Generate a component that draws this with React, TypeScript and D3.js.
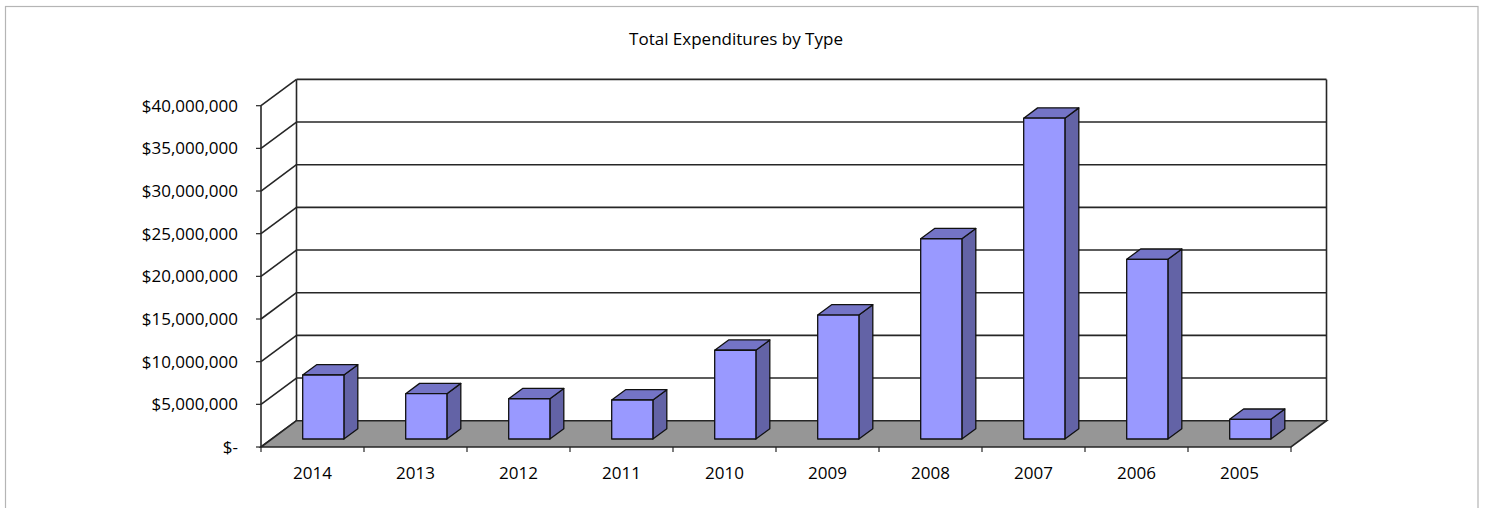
import React from "react";
import * as d3 from "d3";

const categories = ["2014", "2013", "2012", "2011", "2010", "2009", "2008", "2007", "2006", "2005"];
const values = [7500000, 5310000, 4720000, 4570000, 10400000, 14530000, 23470000, 37600000, 21060000, 2310000];
const yTicks = [0, 5000000, 10000000, 15000000, 20000000, 25000000, 30000000, 35000000, 40000000];
const title = "Total Expenditures by Type";

const W = 1488;
const H = 508;
const FONT = "'Open Sans', 'Noto Sans', sans-serif";

export default function App() {
  const x0 = 261, x1 = 1291;
  const DX = 35.5, DY = 26.3;
  const x = d3.scaleBand<string>().domain(categories).range([x0, x1]).paddingInner(0).paddingOuter(0);
  const y = d3.scaleLinear().domain([0, 40000000]).range([447, 105.7]);
  const barW = x.bandwidth() / 2.5;
  const zFront = 0.304, zBack = 0.696;
  const fmt = (v: number) => (v === 0 ? "$-" : "$" + d3.format(",")(v));
  const P = (px: number, py: number, z: number) => [px + z * DX, py - z * DY];
  const pts = (arr: number[][]) => arr.map((p) => p.join(",")).join(" ");
  const stroke = "#262626";

  return (
    <svg width={W} height={H} style={{ position: "absolute", left: 0, top: 0, display: "block", background: "#fff" }}>
      <rect x={5.5} y={6.5} width={1472.5} height={520} fill="#fff" stroke="#b5b5b5" strokeWidth={1.2} />
      <text x={736} y={45} textAnchor="middle" fontFamily={FONT} fontSize={17} fill="#000">{title}</text>

      {/* back wall gridlines */}
      {yTicks.map((t) => (
        <line key={"g" + t} x1={x0 + DX} x2={x1 + DX} y1={y(t) - DY} y2={y(t) - DY} stroke={stroke} strokeWidth={1.6} />
      ))}
      {/* left wall diagonals */}
      {yTicks.map((t) => (
        <line key={"d" + t} x1={x0} y1={y(t)} x2={x0 + DX} y2={y(t) - DY} stroke={stroke} strokeWidth={1.6} />
      ))}
      {/* back wall verticals */}
      <line x1={x0 + DX} x2={x0 + DX} y1={y(40000000) - DY} y2={y(0) - DY} stroke={stroke} strokeWidth={1.6} />
      <line x1={x1 + DX} x2={x1 + DX} y1={y(40000000) - DY} y2={y(0) - DY} stroke={stroke} strokeWidth={1.6} />

      {/* floor */}
      <polygon
        points={pts([[x0, y(0)], [x0 + DX, y(0) - DY], [x1 + DX, y(0) - DY], [x1, y(0)]])}
        fill="#969696"
        stroke={stroke}
        strokeWidth={1.6}
      />

      {/* front value axis */}
      <line x1={x0} x2={x0} y1={y(40000000)} y2={y(0)} stroke={stroke} strokeWidth={1.6} />
      {yTicks.map((t) => (
        <g key={"t" + t}>
          <line x1={x0 - 5} x2={x0} y1={y(t)} y2={y(t)} stroke={stroke} strokeWidth={1.2} />
          <text x={238} y={y(t) + 6} textAnchor="end" fontFamily={FONT} fontSize={17} fill="#000">{fmt(t)}</text>
        </g>
      ))}

      {/* category ticks and labels */}
      {[...categories.map((c) => x(c) as number), x1].map((px, i) => (
        <line key={"ct" + i} x1={px} x2={px} y1={y(0)} y2={y(0) + 5} stroke={stroke} strokeWidth={1.2} />
      ))}
      {categories.map((c) => (
        <text key={"cl" + c} x={(x(c) as number) + x.bandwidth() / 2} y={478.5} textAnchor="middle" fontFamily={FONT} fontSize={17} fill="#000">{c}</text>
      ))}

      {/* bars */}
      {categories.map((c, i) => {
        const bx0 = (x(c) as number) + (x.bandwidth() - barW) / 2;
        const bx1 = bx0 + barW;
        const yb = y(0), yt = y(values[i]);
        const f00 = P(bx0, yb, zFront), f10 = P(bx1, yb, zFront), f11 = P(bx1, yt, zFront), f01 = P(bx0, yt, zFront);
        const b10 = P(bx1, yb, zBack), b11 = P(bx1, yt, zBack), b01 = P(bx0, yt, zBack);
        return (
          <g key={"b" + c} stroke="#111" strokeWidth={1.3} strokeLinejoin="round">
            <polygon points={pts([f10, b10, b11, f11])} fill="#6363a6" />
            <polygon points={pts([f01, f11, b11, b01])} fill="#7474c6" />
            <polygon points={pts([f00, f10, f11, f01])} fill="#9999ff" />
          </g>
        );
      })}
    </svg>
  );
}
